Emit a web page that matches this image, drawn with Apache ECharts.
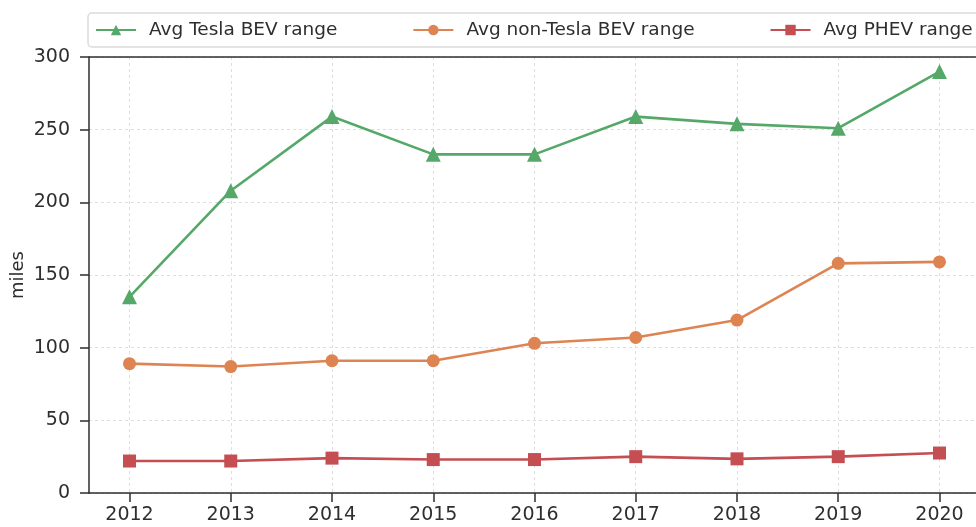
<!DOCTYPE html>
<html>
<head>
<meta charset="utf-8">
<script src="https://cdn.jsdelivr.net/npm/echarts@6/dist/echarts.min.js"></script>
<style>
  html, body { margin: 0; padding: 0; background: #fff; }
  #chart { width: 976px; height: 527px; }
</style>
</head>
<body>
<div id="chart"></div>
<script>
const years = [2012, 2013, 2014, 2015, 2016, 2017, 2018, 2019, 2020]
const teslaRange = [135, 208, 259, 233, 233, 259, 254, 251, 290]
const nonTeslaRange = [89, 87, 91, 91, 103, 107, 119, 158, 159]
const phevRange = [22, 22, 24, 23, 23, 25, 23.5, 25, 27.5]
const yTicks = [0, 50, 100, 150, 200, 250, 300]

const FONT = 'DejaVu Sans'
const INK = '#2e2e2e'
const GRID_LINE = { show: true, lineStyle: { color: '#dedede', type: [3, 3], width: 1 } }

const pairs = vals => years.map((y, i) => [y, vals[i]])

const chart = echarts.init(document.getElementById('chart'), null, { renderer: 'canvas' })

function lineSeries(name, vals, color, symbol, size) {
  return {
    name,
    type: 'line',
    data: pairs(vals),
    symbol,
    symbolSize: size,
    lineStyle: { color, width: 2.6 },
    itemStyle: { color },
    emphasis: { disabled: true },
    animation: false
  }
}

chart.setOption({
  textStyle: { fontFamily: FONT },
  legend: {
    left: 88,
    top: 13,
    width: 1200,
    padding: [7.5, 8, 7.5, 7],
    itemGap: 75,
    itemWidth: 40,
    itemHeight: 13,
    borderColor: '#dadada',
    borderWidth: 1.5,
    borderRadius: 4,
    textStyle: { fontFamily: FONT, fontSize: 18.5, color: INK, padding: [0, 0, 0, 8] },
    data: ['Avg Tesla BEV range', 'Avg non-Tesla BEV range', 'Avg PHEV range']
  },
  grid: { left: 89, right: -4, top: 57, bottom: 34, containLabel: false, outerBoundsMode: 'none' },
  xAxis: {
    type: 'value',
    min: 2011.6,
    max: 2020.4,
    axisLine: { show: true, lineStyle: { color: INK, width: 1.5 } },
    axisTick: { show: true, length: 9, customValues: years, lineStyle: { color: INK, width: 1.5 } },
    axisLabel: { customValues: years, fontSize: 19, color: INK, margin: 13, formatter: v => String(v) },
    splitLine: Object.assign({ customValues: years }, GRID_LINE)
  },
  yAxis: {
    type: 'value',
    min: 0,
    max: 300,
    interval: 50,
    name: 'miles',
    nameLocation: 'middle',
    nameGap: 62,
    nameMoveOverlap: false,
    nameTextStyle: { fontSize: 18, color: INK, fontFamily: FONT },
    axisLine: { show: true, lineStyle: { color: INK, width: 1.5 } },
    axisTick: { show: true, length: 9, lineStyle: { color: INK, width: 1.5 } },
    axisLabel: { fontSize: 19, color: INK, margin: 19, formatter: v => (yTicks.includes(v) ? String(v) : '') },
    splitLine: GRID_LINE
  },
  series: [
    lineSeries('Avg Tesla BEV range', teslaRange, '#55a868', 'triangle', 15),
    lineSeries('Avg non-Tesla BEV range', nonTeslaRange, '#dd8452', 'circle', 13),
    lineSeries('Avg PHEV range', phevRange, '#c44e52', 'rect', 13)
  ],
  graphic: [{
    type: 'line',
    z: 100,
    shape: { x1: 89, y1: 57, x2: 976, y2: 57 },
    style: { stroke: INK, lineWidth: 1.5 },
    silent: true
  }]
})
</script>
</body>
</html>
